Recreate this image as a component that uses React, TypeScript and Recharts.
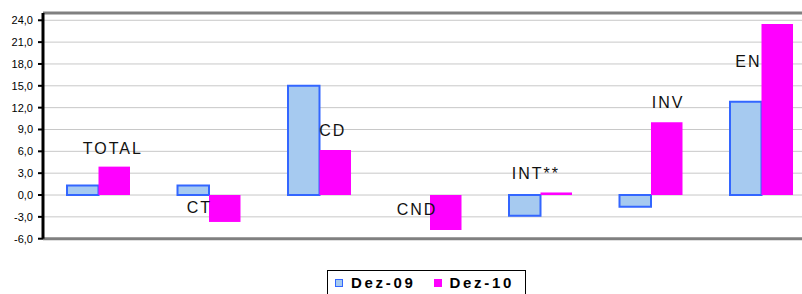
import React from 'react';
import { ComposedChart, Bar, Line, XAxis, YAxis, CartesianGrid, ReferenceLine, LabelList } from 'recharts';

const categories = ['TOTAL', 'CT', 'CD', 'CND', 'INT**', 'INV', 'EN'];
const dez09 = [1.3, 1.3, 15.0, 0, -2.85, -1.6, 12.8];
const dez10 = [3.9, -3.7, 6.2, -4.8, 0.35, 10.0, 23.5];
// value at which each category caption sits
const captionAt = [6.4, -1.65, 8.85, -2.0, 2.9, 12.65, 18.4];
const yTicks = [-6, -3, 0, 3, 6, 9, 12, 15, 18, 21, 24];

const chartData = categories.map((name, i) => ({
  name,
  dez09: dez09[i],
  dez10: dez10[i],
  caption: captionAt[i],
}));

// horizontal nudges of the captions, relative to the group centre
const captionShift = [-15.5, -22, 0, -33, -28.5, 1, -26];

const FONT = '"Liberation Sans", Arial, Helvetica, sans-serif';

const renderCaption = (props: any) => {
  const { x, y, index, value } = props;
  return (
    <text
      x={x + captionShift[index]}
      y={y}
      dominantBaseline="central"
      textAnchor="start"
      fontSize={16}
      letterSpacing={2}
      fill="#111"
      fontFamily={FONT}
    >
      {value}
    </text>
  );
};

const fmt = (v: number) => v.toFixed(1).replace('.', ',');

export default function App() {
  return (
    <div
      style={{
        position: 'absolute',
        left: 0,
        top: 0,
        width: 802,
        height: 294,
        overflow: 'hidden',
        background: '#fff',
        fontFamily: FONT,
      }}
    >
      <ComposedChart
        width={830}
        height={294}
        data={chartData}
        barGap={0}
        margin={{ top: 13, right: 13.5, bottom: 55.3, left: 0 }}
      >
        <CartesianGrid vertical={false} stroke="#c8c8c8" strokeWidth={1} />
        <XAxis dataKey="name" hide />
        <YAxis
          width={43}
          domain={[-6, 25]}
          ticks={yTicks}
          interval={0}
          tickFormatter={fmt}
          tick={{ fontSize: 11, fill: '#000', fontFamily: FONT }}
          tickSize={5}
          tickMargin={5}
          tickLine={{ stroke: '#000', strokeWidth: 2 }}
          axisLine={{ stroke: '#000', strokeWidth: 3 }}
        />
        <ReferenceLine y={25} stroke="#808080" strokeWidth={3} />
        <ReferenceLine y={-6} stroke="#808080" strokeWidth={3} />
        <Bar
          dataKey="dez09"
          barSize={31.5}
          fill="#a6caf0"
          stroke="#3366ff"
          strokeWidth={2}
          isAnimationActive={false}
        />
        <Bar
          dataKey="dez10"
          barSize={31.5}
          fill="#ff00ff"
          isAnimationActive={false}
        />
        <Line
          dataKey="caption"
          stroke="none"
          dot={false}
          activeDot={false}
          isAnimationActive={false}
        >
          <LabelList dataKey="name" content={renderCaption} />
        </Line>
      </ComposedChart>

      {/* Legend box */}
      <div
        style={{
          position: 'absolute',
          left: 327,
          top: 270,
          width: 199,
          height: 30,
          border: '1px solid #000',
          boxSizing: 'border-box',
        }}
      >
        {[
          { label: 'Dez-09', fill: '#a6caf0', stroke: '#3366ff', left: 7, textLeft: 23 },
          { label: 'Dez-10', fill: '#ff00ff', stroke: '#ff00ff', left: 106, textLeft: 121.5 },
        ].map(item => (
          <React.Fragment key={item.label}>
            <div
              style={{
                position: 'absolute',
                left: item.left,
                top: 8,
                width: 8,
                height: 8,
                background: item.fill,
                border: `1.5px solid ${item.stroke}`,
                boxSizing: 'border-box',
              }}
            />
            <span
              style={{
                position: 'absolute',
                left: item.textLeft,
                top: 3,
                fontSize: 15,
                lineHeight: '17px',
                fontWeight: 'bold',
                letterSpacing: 2.7,
                color: '#000',
                whiteSpace: 'nowrap',
              }}
            >
              {item.label}
            </span>
          </React.Fragment>
        ))}
      </div>
    </div>
  );
}
